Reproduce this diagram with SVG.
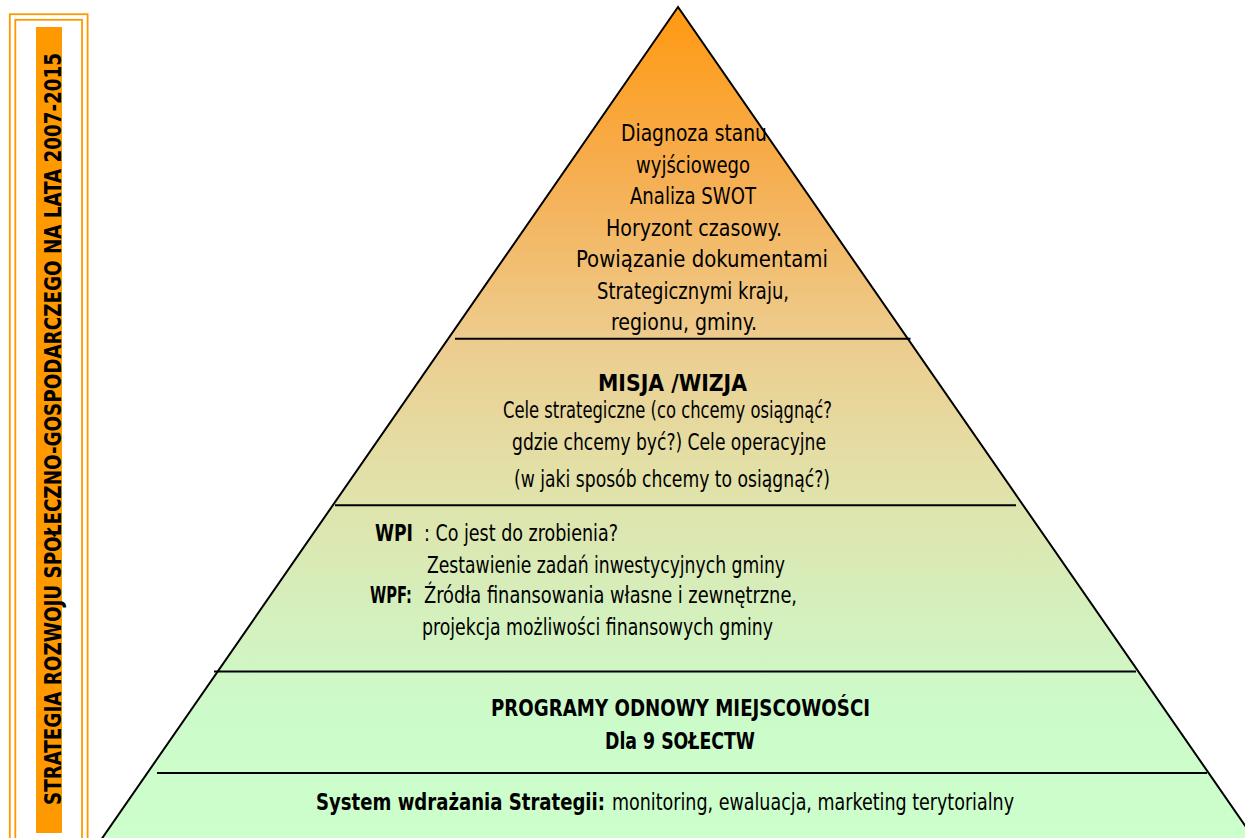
<svg xmlns="http://www.w3.org/2000/svg" width="1245" height="838" viewBox="0 0 1245 838">
<style>
.t{font-family:"DejaVu Sans Condensed","DejaVu Sans","Liberation Sans",sans-serif;font-stretch:condensed;font-size:23px;fill:#000}
.b{font-weight:bold}
.ln{stroke:#000;stroke-width:2;fill:none}
.fr{fill:none;stroke:#FF9900;stroke-width:1.8}
</style>
<defs>
<linearGradient id="g" gradientUnits="userSpaceOnUse" x1="0" y1="7" x2="0" y2="838">
<stop offset="0" stop-color="#FF9911"/>
<stop offset="0.2" stop-color="#F6AE50"/>
<stop offset="0.4" stop-color="#EDCC8E"/>
<stop offset="0.55" stop-color="#E3DFA6"/>
<stop offset="0.72" stop-color="#D5EFBC"/>
<stop offset="0.85" stop-color="#CCFBCA"/>
<stop offset="1" stop-color="#CCFFCC"/>
</linearGradient>
</defs>
<rect width="1245" height="838" fill="#fff"/>
<g id="sidebar">
<rect class="fr" x="9.8" y="14.2" width="77.8" height="840"/>
<rect class="fr" x="15.3" y="19.8" width="66.7" height="840"/>
<rect x="36" y="27" width="26" height="806" fill="#FF9900"/>
<text class="t b" transform="translate(61,805) rotate(-90)" x="0" y="0" font-size="27" textLength="752" lengthAdjust="spacingAndGlyphs">STRATEGIA ROZWOJU SPOŁECZNO-GOSPODARCZEGO  NA LATA 2007-2015</text>
</g>
<g id="pyramid">
<polygon points="678,7 94,850 1262,850" fill="url(#g)" stroke="#000" stroke-width="2" stroke-linejoin="miter"/>
</g>
<g id="connectors">
<line class="ln" x1="455" y1="338.7" x2="910.5" y2="338.7"/>
<line class="ln" x1="335" y1="505.3" x2="1016" y2="505.3"/>
<line class="ln" x1="214" y1="671.5" x2="1136" y2="671.5"/>
<line class="ln" x1="157" y1="773" x2="1207" y2="773"/>
</g>
<g id="level1">
<text class="t" x="621" y="141" textLength="146" lengthAdjust="spacingAndGlyphs">Diagnoza stanu</text>
<text class="t" x="636" y="173" textLength="114" lengthAdjust="spacingAndGlyphs">wyjściowego</text>
<text class="t" x="630" y="204" textLength="126" lengthAdjust="spacingAndGlyphs">Analiza SWOT</text>
<text class="t" x="606" y="236" textLength="176" lengthAdjust="spacingAndGlyphs">Horyzont czasowy.</text>
<text class="t" x="576" y="267" textLength="252" lengthAdjust="spacingAndGlyphs">Powiązanie dokumentami</text>
<text class="t" x="597" y="299" textLength="192" lengthAdjust="spacingAndGlyphs">Strategicznymi kraju,</text>
<text class="t" x="611" y="330" textLength="146" lengthAdjust="spacingAndGlyphs">regionu, gminy.</text>
</g>
<g id="level2">
<text class="t b" x="598" y="391" textLength="149" lengthAdjust="spacingAndGlyphs">MISJA /WIZJA</text>
<text class="t" x="503" y="418" textLength="329" lengthAdjust="spacingAndGlyphs">Cele strategiczne (co chcemy osiągnąć?</text>
<text class="t" x="512" y="450" textLength="314" lengthAdjust="spacingAndGlyphs">gdzie chcemy być?) Cele operacyjne</text>
<text class="t" x="514" y="487" textLength="316" lengthAdjust="spacingAndGlyphs">(w jaki sposób chcemy to osiągnąć?)</text>
</g>
<g id="level3">
<text class="t" y="541"><tspan class="b" x="375" textLength="38" lengthAdjust="spacingAndGlyphs">WPI</tspan><tspan x="424" textLength="194" lengthAdjust="spacingAndGlyphs">: Co jest do zrobienia?</tspan></text>
<text class="t" x="427" y="573" textLength="358" lengthAdjust="spacingAndGlyphs">Zestawienie zadań inwestycyjnych gminy</text>
<text class="t" y="603"><tspan class="b" x="370" textLength="42" lengthAdjust="spacingAndGlyphs">WPF:</tspan><tspan x="424" textLength="373" lengthAdjust="spacingAndGlyphs">Źródła finansowania własne i zewnętrzne,</tspan></text>
<text class="t" x="422" y="635" textLength="351" lengthAdjust="spacingAndGlyphs">projekcja możliwości finansowych gminy</text>
</g>
<g id="level4">
<text class="t b" x="491" y="716" textLength="379" lengthAdjust="spacingAndGlyphs">PROGRAMY ODNOWY MIEJSCOWOŚCI</text>
<text class="t b" x="605" y="749" textLength="150" lengthAdjust="spacingAndGlyphs">Dla 9 SOŁECTW</text>
</g>
<g id="level5">
<text class="t" y="810"><tspan class="b" x="316" textLength="289" lengthAdjust="spacingAndGlyphs">System wdrażania Strategii:</tspan><tspan x="612" textLength="402" lengthAdjust="spacingAndGlyphs">monitoring, ewaluacja, marketing terytorialny</tspan></text>
</g>
</svg>
